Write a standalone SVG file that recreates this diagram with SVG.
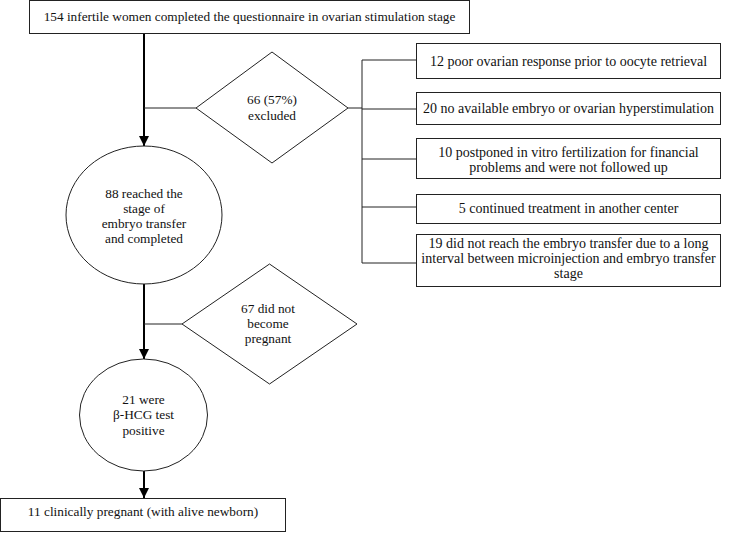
<svg xmlns="http://www.w3.org/2000/svg" width="730" height="539" viewBox="0 0 730 539">
<defs>
<marker id="ah" markerWidth="10" markerHeight="10" refX="10" refY="5" orient="auto" markerUnits="userSpaceOnUse">
<path d="M0,0 L10,5 L0,10 Z" fill="#000"/>
</marker>
<style>
.s{fill:#fff;stroke:#222;stroke-width:1}
.t{font-family:'Liberation Serif','Times New Roman','DejaVu Serif',serif;font-size:13.3px;fill:#111;text-anchor:middle}
.r{font-size:14px}
.c{fill:none;stroke:#222;stroke-width:1}
.m{fill:none;stroke:#000;stroke-width:2}
</style>
</defs>
<rect width="730" height="539" fill="#fff"/>
<g id="connectors">
<path class="m" d="M144,33 V146" marker-end="url(#ah)"/>
<path class="m" d="M144,284 V359" marker-end="url(#ah)"/>
<path class="m" d="M144,471 V498" marker-end="url(#ah)"/>
<path class="c" d="M144,108 H196"/>
<path class="c" d="M144,324 H182"/>
<path class="c" d="M348,108 H362"/>
<path class="c" d="M362,60 V263"/>
<path class="c" d="M362,60 H416 M362,109 H416 M362,159 H416 M362,207 H416 M362,263 H416"/>
</g>
<g id="n-top">
<rect class="s" x="29.5" y="0.5" width="440" height="33"/>
<text class="t" x="249.5" y="21">154 infertile women completed the questionnaire in ovarian stimulation stage</text>
</g>
<g id="n-excluded">
<polygon class="s" points="272,52 348,108 272,163 196,108"/>
<text class="t" x="272" y="104">66 (57%)</text>
<text class="t" x="272" y="120">excluded</text>
</g>
<g id="n-r1">
<rect class="s" x="416.5" y="43.5" width="304" height="35"/>
<text class="t r" x="568.5" y="66">12 poor ovarian response prior to oocyte retrieval</text>
</g>
<g id="n-r2">
<rect class="s" x="416.5" y="92.5" width="304" height="32"/>
<text class="t r" x="568.5" y="113">20 no available embryo or ovarian hyperstimulation</text>
</g>
<g id="n-r3">
<rect class="s" x="416.5" y="138.5" width="304" height="40"/>
<text class="t r" x="568.5" y="157">10 postponed in vitro fertilization for financial</text>
<text class="t r" x="568.5" y="172">problems and were not followed up</text>
</g>
<g id="n-r4">
<rect class="s" x="416.5" y="194.5" width="304" height="29"/>
<text class="t r" x="568.5" y="213">5 continued treatment in another center</text>
</g>
<g id="n-r5">
<rect class="s" x="416.5" y="234.5" width="304" height="52"/>
<text class="t r" x="568.5" y="248">19 did not reach the embryo transfer due to a long</text>
<text class="t r" x="568.5" y="263">interval between microinjection and embryo transfer</text>
<text class="t r" x="568.5" y="278">stage</text>
</g>
<g id="n-reached">
<ellipse class="s" cx="144" cy="215" rx="78" ry="69"/>
<text class="t" x="144" y="197.5">88 reached the</text>
<text class="t" x="144" y="212.5">stage of</text>
<text class="t" x="144" y="227.5">embryo transfer</text>
<text class="t" x="144" y="242.5">and completed</text>
</g>
<g id="n-notpregnant">
<polygon class="s" points="269.5,264 357,324 269.5,384 182,324"/>
<text class="t" x="268" y="313">67 did not</text>
<text class="t" x="268" y="328">become</text>
<text class="t" x="268" y="343">pregnant</text>
</g>
<g id="n-hcg">
<ellipse class="s" cx="143.5" cy="415" rx="64" ry="56"/>
<text class="t" x="143.5" y="404">21 were</text>
<text class="t" x="143.5" y="419">β-HCG test</text>
<text class="t" x="143.5" y="435">positive</text>
</g>
<g id="n-clinical">
<rect class="s" x="0.5" y="498.5" width="285" height="33"/>
<text class="t" x="143" y="516">11 clinically pregnant (with alive newborn)</text>
</g>
</svg>
